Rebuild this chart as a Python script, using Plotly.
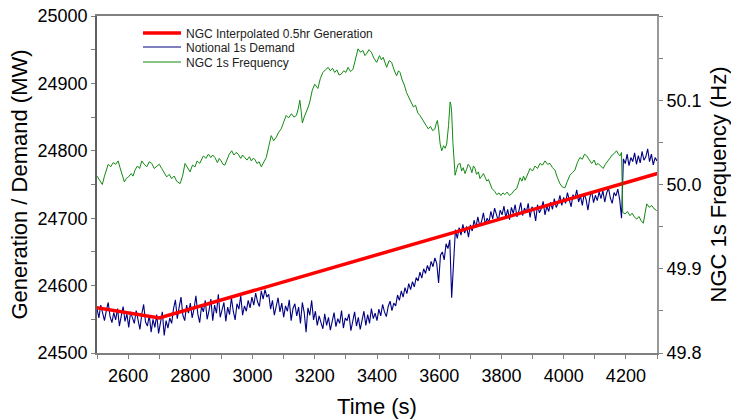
import plotly.graph_objects as go

# Interpolated half-hour generation (MW) at half-hour points (s)
gen_times = [900, 2700, 4500]
gen_values = [24687, 24552, 24793]

# Notional demand (MW), sampled every 6 s from 2500 s
demand_start = 2500
demand_step = 6
demand_values = [
    24566, 24552, 24571, 24558, 24548, 24563, 24575, 24554, 24545, 24560,
    24549, 24566, 24540, 24555, 24569, 24547, 24558, 24538, 24561, 24552,
    24544, 24563, 24549, 24535, 24558, 24572, 24546, 24540, 24556, 24531,
    24550, 24538, 24557, 24529, 24545, 24561, 24526, 24548, 24537, 24552,
    24544, 24566, 24579, 24551, 24568, 24583, 24556, 24548, 24571, 24559,
    24574, 24552, 24566, 24585, 24558, 24545, 24569, 24561, 24578, 24550,
    24563, 24580, 24548, 24571, 24559, 24587, 24553, 24566, 24575, 24547,
    24568, 24557, 24582, 24562, 24549, 24573, 24565, 24585, 24556, 24570,
    24562, 24578, 24567, 24583, 24571, 24589, 24576, 24569, 24592, 24580,
    24594, 24583, 24587, 24565, 24578, 24556, 24570, 24582, 24561, 24574,
    24553, 24570, 24562, 24579, 24548, 24566, 24573, 24555, 24568, 24544,
    24575, 24560, 24531, 24567, 24556, 24578, 24549, 24562, 24541, 24555,
    24545, 24536, 24558, 24541, 24553, 24534, 24547, 24560, 24539, 24551,
    24544, 24563, 24537, 24552, 24548, 24558, 24533, 24546, 24561, 24540,
    24553, 24535, 24549, 24562, 24541, 24557, 24544, 24566, 24551, 24559,
    24548, 24565, 24555, 24572, 24561, 24554, 24569, 24577, 24563, 24574,
    24570, 24586, 24578, 24592, 24583, 24597, 24588, 24603, 24594, 24606,
    24598, 24612, 24607, 24620, 24611, 24625, 24618, 24630, 24622, 24636,
    24628, 24641, 24633, 24604, 24645, 24650, 24638, 24662, 24655, 24668,
    24582, 24640, 24683, 24670, 24686, 24675, 24691, 24678, 24688, 24672,
    24690, 24681, 24697, 24686, 24702, 24689, 24695, 24708, 24691, 24700,
    24694, 24710, 24699, 24715, 24703, 24696, 24712, 24705, 24718, 24701,
    24713, 24698, 24716, 24707, 24720, 24702, 24711, 24723, 24704, 24715,
    24709, 24722, 24701, 24717, 24712, 24696, 24720, 24708, 24714, 24725,
    24705, 24718, 24710, 24724, 24713, 24729, 24716, 24722, 24734, 24719,
    24731, 24722, 24738, 24726, 24717, 24735, 24729, 24742, 24724, 24733,
    24719, 24736, 24728, 24712, 24731, 24740, 24723, 24734, 24726, 24739,
    24729, 24741, 24724, 24737, 24745, 24730, 24722, 24738, 24733, 24743,
    24728, 24700, 24788, 24781, 24795, 24778, 24790, 24784, 24797, 24780,
    24793, 24782, 24799, 24786, 24791, 24803, 24784, 24795, 24779, 24790,
    24785,
]
demand_times = [demand_start + i * demand_step for i in range(len(demand_values))]

# NGC 1s frequency (Hz)
freq_times = [
    2500, 2502, 2509, 2517, 2524, 2530, 2536, 2544, 2552, 2560,
    2568, 2574, 2581, 2588, 2594, 2601, 2610, 2616, 2622, 2630,
    2637, 2644, 2652, 2660, 2668, 2676, 2684, 2692, 2700, 2708,
    2716, 2724, 2732, 2740, 2748, 2756, 2767, 2775, 2783, 2791,
    2799, 2807, 2815, 2822, 2830, 2842, 2850, 2858, 2866, 2872,
    2879, 2887, 2893, 2899, 2905, 2911, 2918, 2925, 2933, 2940,
    2947, 2954, 2962, 2968, 2975, 2982, 2990, 2996, 3002, 3007,
    3014, 3021, 3028, 3036, 3044, 3052, 3060, 3068, 3076, 3084,
    3092, 3100, 3108, 3116, 3125, 3133, 3141, 3147, 3152, 3156,
    3160, 3166, 3173, 3179, 3184, 3192, 3200, 3205, 3210, 3218,
    3226, 3234, 3243, 3250, 3257, 3264, 3271, 3278, 3285, 3293,
    3300, 3307, 3315, 3323, 3331, 3339, 3347, 3355, 3361, 3366,
    3374, 3382, 3390, 3399, 3408, 3414, 3420, 3426, 3431, 3439,
    3447, 3455, 3463, 3469, 3474, 3481, 3488, 3495, 3502, 3510,
    3517, 3524, 3531, 3538, 3544, 3551, 3558, 3565, 3572, 3579,
    3586, 3590, 3594, 3598, 3603, 3608, 3614, 3619, 3624, 3630,
    3635, 3638, 3640, 3644, 3648, 3651, 3656, 3661, 3667, 3672,
    3677, 3683, 3688, 3693, 3699, 3705, 3710, 3715, 3720, 3726,
    3731, 3737, 3742, 3747, 3753, 3758, 3763, 3770, 3778, 3785,
    3792, 3798, 3805, 3811, 3818, 3826, 3833, 3841, 3849, 3855,
    3860, 3866, 3871, 3876, 3884, 3892, 3900, 3908, 3916, 3924,
    3932, 3940, 3948, 3956, 3964, 3972, 3980, 3988, 3996, 4004,
    4012, 4020, 4028, 4036, 4044, 4052, 4060, 4067, 4074, 4082,
    4090, 4098, 4104, 4111, 4119, 4127, 4134, 4141, 4149, 4156,
    4163, 4170, 4176, 4181, 4186, 4190, 4197, 4205, 4213, 4220,
    4228, 4235, 4242, 4249, 4256, 4262, 4267, 4275, 4283, 4291,
    4299,
]
freq_values = [
    50.010, 50.009, 50.004, 50.000, 50.010, 50.016, 50.024, 50.021, 50.026, 50.024,
    50.028, 50.020, 50.012, 50.003, 50.007, 50.009, 50.013, 50.010, 50.017, 50.022,
    50.019, 50.028, 50.024, 50.021, 50.027, 50.025, 50.019, 50.021, 50.024, 50.019,
    50.014, 50.009, 50.012, 50.007, 50.010, 50.004, 50.001, 50.010, 50.025, 50.019,
    50.015, 50.023, 50.021, 50.028, 50.025, 50.034, 50.031, 50.036, 50.032, 50.035,
    50.032, 50.026, 50.031, 50.028, 50.024, 50.023, 50.030, 50.036, 50.040, 50.035,
    50.038, 50.036, 50.031, 50.035, 50.032, 50.029, 50.033, 50.028, 50.031, 50.030,
    50.025, 50.027, 50.021, 50.026, 50.032, 50.045, 50.058, 50.052, 50.056, 50.062,
    50.066, 50.074, 50.082, 50.079, 50.084, 50.080, 50.082, 50.090, 50.100, 50.088,
    50.073, 50.080, 50.086, 50.092, 50.098, 50.112, 50.119, 50.116, 50.114, 50.126,
    50.133, 50.136, 50.139, 50.135, 50.138, 50.133, 50.136, 50.130, 50.131, 50.135,
    50.133, 50.139, 50.134, 50.137, 50.150, 50.161, 50.157, 50.159, 50.153, 50.155,
    50.160, 50.157, 50.150, 50.145, 50.153, 50.148, 50.151, 50.143, 50.139, 50.147,
    50.145, 50.136, 50.129, 50.135, 50.133, 50.124, 50.118, 50.109, 50.104, 50.098,
    50.092, 50.094, 50.085, 50.082, 50.078, 50.073, 50.070, 50.066, 50.069, 50.064,
    50.066, 50.072, 50.076, 50.066, 50.048, 50.040, 50.046, 50.043, 50.048, 50.070,
    50.098, 50.094, 50.085, 50.050, 50.021, 50.011, 50.018, 50.024, 50.025, 50.016,
    50.020, 50.013, 50.018, 50.024, 50.021, 50.014, 50.022, 50.019, 50.012, 50.015,
    50.007, 50.011, 50.013, 50.009, 50.004, 50.006, 50.001, 49.995, 49.992, 49.988,
    49.990, 49.987, 49.990, 49.988, 49.991, 49.987, 49.989, 49.993, 49.995, 50.002,
    50.008, 50.004, 50.010, 50.005, 50.012, 50.019, 50.016, 50.022, 50.019, 50.025,
    50.023, 50.028, 50.024, 50.025, 50.020, 50.017, 50.008, 50.001, 49.997, 49.996,
    50.004, 50.011, 50.014, 50.017, 50.026, 50.032, 50.030, 50.036, 50.034, 50.030,
    50.025, 50.029, 50.023, 50.025, 50.022, 50.019, 50.024, 50.028, 50.032, 50.035,
    50.037, 50.040, 50.036, 50.034, 50.038, 49.967, 49.965, 49.968, 49.963, 49.966,
    49.961, 49.959, 49.962, 49.957, 49.954, 49.966, 49.977, 49.973, 49.975, 49.971,
    49.969,
]

x_ticks = [2600, 2800, 3000, 3200, 3400, 3600, 3800, 4000, 4200]
y_ticks = [24500, 24600, 24700, 24800, 24900, 25000]
y2_ticks = [49.8, 49.9, 50.0, 50.1]

FONT = "Liberation Sans, Arial, sans-serif"
AX = "#808080"
LEG_X = 0.0732


def leg(yc):
    return dict(x=LEG_X, y=yc, xanchor="left", yanchor="middle",
                bgcolor="rgba(0,0,0,0)", font=dict(size=12, color="#222222"),
                itemwidth=38)


fig = go.Figure()
fig.add_trace(go.Scatter(x=demand_times, y=demand_values, mode="lines",
                         name="Notional 1s Demand", legend="legend2",
                         line=dict(color="#000080", width=1.1)))
fig.add_trace(go.Scatter(x=freq_times, y=freq_values, mode="lines",
                         name="NGC 1s Frequency", yaxis="y2", legend="legend3",
                         line=dict(color="#128a12", width=1)))
fig.add_trace(go.Scatter(x=gen_times, y=gen_values, mode="lines",
                         name="NGC Interpolated 0.5hr Generation", legend="legend",
                         line=dict(color="#ff0000", width=3.5)))

fig.update_layout(
    width=731, height=419,
    margin=dict(l=97, r=74, t=16, b=66, autoexpand=False),
    paper_bgcolor="white", plot_bgcolor="white",
    font=dict(family=FONT, size=18, color="#000000"),
    showlegend=True,
    legend=leg(0.9496),
    legend2=leg(0.908),
    legend3=leg(0.8635),
    xaxis=dict(range=[2500, 4300], tickvals=x_ticks, showgrid=False, zeroline=False,
               showline=True, linecolor=AX, linewidth=1.5, mirror=True,
               ticks="outside", ticklen=4, tickcolor=AX, automargin=False,
               minor=dict(dtick=100, ticks="outside", ticklen=4, tickcolor=AX),
               title=dict(text="Time (s)", standoff=17),
               ticklabelstandoff=2,
               tickfont=dict(size=18)),
    yaxis=dict(range=[24500, 25000], tickvals=y_ticks, showgrid=False, zeroline=False,
               showline=True, linecolor="#606060", linewidth=1.5, automargin=False,
               ticks="outside", ticklen=4, tickcolor=AX,
               minor=dict(dtick=50, ticks="outside", ticklen=4, tickcolor=AX),
               title=dict(text="Generation / Demand (MW)", standoff=4),
               tickformat="d", tickfont=dict(size=18)),
    yaxis2=dict(range=[49.8, 50.2], tickvals=y2_ticks, overlaying="y", side="right",
                showgrid=False, zeroline=False, automargin=False,
                showline=True, linecolor="#999999", linewidth=2,
                ticks="outside", ticklen=4, tickcolor=AX,
                minor=dict(dtick=0.05, ticks="outside", ticklen=4, tickcolor=AX),
                title=dict(text="NGC 1s Frequency (Hz)", standoff=14),
                tickformat=".1f", tickfont=dict(size=18)),
)

fig.write_html("out.html")
